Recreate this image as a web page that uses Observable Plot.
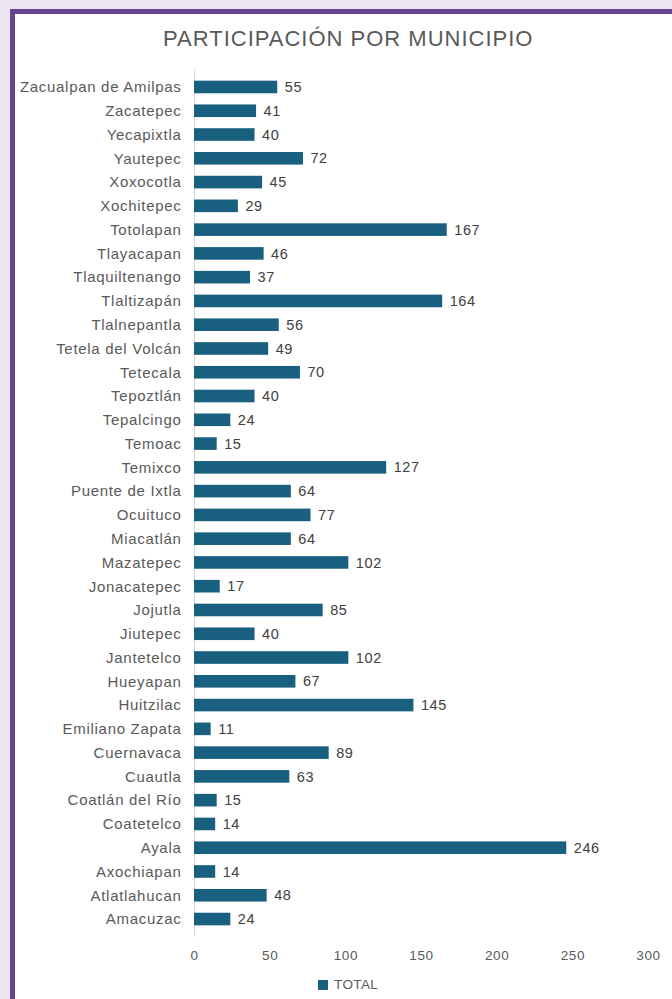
<!DOCTYPE html>
<html>
<head>
<meta charset="utf-8">
<script src="https://cdn.jsdelivr.net/npm/d3@7"></script>
<script src="https://cdn.jsdelivr.net/npm/@observablehq/plot@0.6"></script>
<style>
  html, body { margin: 0; padding: 0; background: #fff; }
  #wrap { position: relative; width: 672px; height: 999px; overflow: hidden; background: #fff; font-family: "Liberation Sans", Arial, sans-serif; }
  #topstrip { position: absolute; left: 0; top: 0; width: 672px; height: 9px; background: #ece4f0; }
  #leftstrip { position: absolute; left: 0; top: 0; width: 10px; height: 999px; background: #ece4f0; }
  #topline { position: absolute; left: 10px; top: 9px; width: 662px; height: 5px; background: #6a428e; }
  #leftline { position: absolute; left: 10px; top: 9px; width: 5px; height: 990px; background: #6a428e; }
  #title { position: absolute; left: 163px; top: 26px; white-space: nowrap; font-size: 22px; color: #595959; letter-spacing: 1px; }
  #chart { position: absolute; left: 0; top: 0; }
  #chart svg text { letter-spacing: 0.6px; }
  #chart svg g[aria-label="y-axis tick label"] text { letter-spacing: 0.7px; }
  #legend { position: absolute; top: 977px; left: 318px; font-size: 13.5px; color: #595959; display: flex; align-items: center; letter-spacing: 0.4px; }
  #legend .sw { width: 10px; height: 10px; background: #185f80; margin-right: 6px; }
</style>
</head>
<body>
<div id="wrap">
  <div id="topstrip"></div>
  <div id="leftstrip"></div>
  <div id="topline"></div>
  <div id="leftline"></div>
  <div id="title">PARTICIPACIÓN POR MUNICIPIO</div>
  <div id="chart"></div>
  <div id="legend"><div class="sw"></div><span>TOTAL</span></div>
</div>
<script>
const municipios = [
  "Zacualpan de Amilpas", "Zacatepec", "Yecapixtla", "Yautepec", "Xoxocotla",
  "Xochitepec", "Totolapan", "Tlayacapan", "Tlaquiltenango", "Tlaltizapán",
  "Tlalnepantla", "Tetela del Volcán", "Tetecala", "Tepoztlán", "Tepalcingo",
  "Temoac", "Temixco", "Puente de Ixtla", "Ocuituco", "Miacatlán",
  "Mazatepec", "Jonacatepec", "Jojutla", "Jiutepec", "Jantetelco",
  "Hueyapan", "Huitzilac", "Emiliano Zapata", "Cuernavaca", "Cuautla",
  "Coatlán del Río", "Coatetelco", "Ayala", "Axochiapan", "Atlatlahucan",
  "Amacuzac"
];
const totales = [
  55, 41, 40, 72, 45,
  29, 167, 46, 37, 164,
  56, 49, 70, 40, 24,
  15, 127, 64, 77, 64,
  102, 17, 85, 40, 102,
  67, 145, 11, 89, 63,
  15, 14, 246, 14, 48,
  24
];
const xTicks = [0, 50, 100, 150, 200, 250, 300];

const data = municipios.map((m, i) => ({municipio: m, total: totales[i]}));

const chart = Plot.plot({
  width: 672,
  height: 999,
  marginTop: 69.5,
  marginBottom: 62.5,
  marginLeft: 194,
  marginRight: 24,
  style: {fontFamily: "'Liberation Sans', Arial, sans-serif", background: "transparent"},
  x: {domain: [0, 300], ticks: xTicks, label: null},
  y: {domain: municipios, padding: 0.47, round: false, label: null},
  marks: [
    Plot.ruleX([0], {stroke: "#d9d9d9", strokeWidth: 1}),
    Plot.barX(data, {x: "total", y: "municipio", fill: "#185f80"}),
    Plot.text(data, {x: "total", y: "municipio", text: d => String(d.total), dx: 7, textAnchor: "start", fill: "#404040", fontSize: 14.5}),
    Plot.axisY({tickSize: 0, tickPadding: 13, fontSize: 15, color: "#595959", label: null}),
    Plot.axisX({ticks: xTicks, tickSize: 0, tickPadding: 13, fontSize: 13.5, color: "#595959", label: null})
  ]
});
document.getElementById("chart").appendChild(chart);
</script>
</body>
</html>
